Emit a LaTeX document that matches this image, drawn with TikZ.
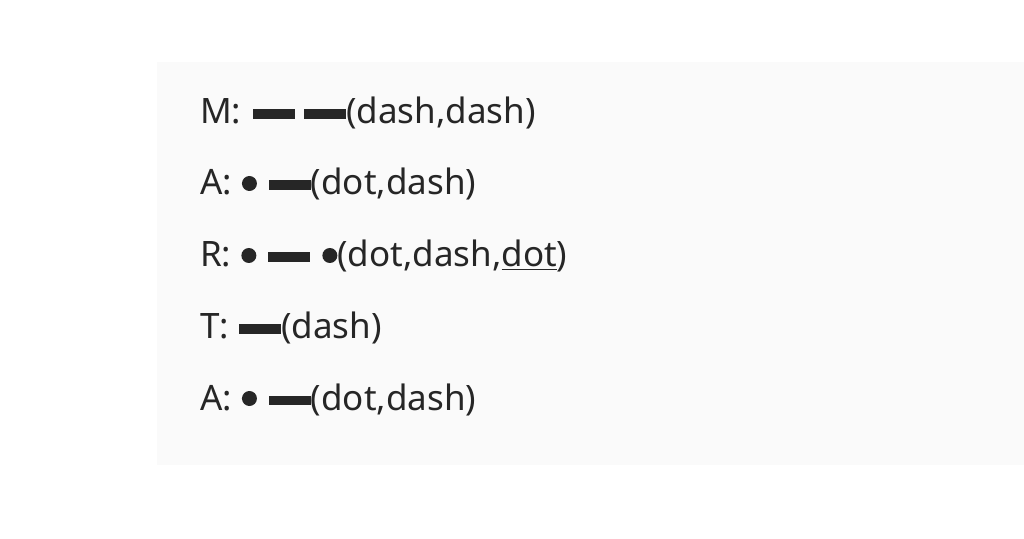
\documentclass[tikz,border=0pt]{standalone}
\usepackage{fontspec}
\setmainfont{Noto Sans}
\newcommand{\dsh}{\raisebox{5pt}{\rule{42pt}{9.5pt}}}
\newcommand{\dt}{\raisebox{4pt}{\tikz\fill (0,0) circle (7.5pt);}}
\newcommand{\ul}[1]{\underline{#1}}
\begin{document}
\begin{tikzpicture}[x=1pt,y=1pt,txt/.style={anchor=base west,inner sep=0pt,font=\fontsize{35}{40}\selectfont,text=black!85}]
\useasboundingbox (0,0) rectangle (1024,538);
\fill[white] (0,0) rectangle (1024,538);
\fill[black!2] (157,73) rectangle (1024,476);
\node[txt] (l1) at (200,414) {M:\hspace{12pt}\dsh\hspace{9pt}\dsh(dash,dash)};
\node[txt] (l2) at (200,343) {A:\hspace{10pt}\dt\hspace{12pt}\dsh(dot,dash)};
\node[txt] (l3) at (200,271) {R:\hspace{10pt}\dt\hspace{12pt}\dsh\hspace{12pt}\dt(dot,dash,\ul{dot})};
\node[txt] (l4) at (200,199) {T:\hspace{10pt}\dsh(dash)};
\node[txt] (l5) at (200,128) {A:\hspace{10pt}\dt\hspace{12pt}\dsh(dot,dash)};
\end{tikzpicture}
\end{document}
